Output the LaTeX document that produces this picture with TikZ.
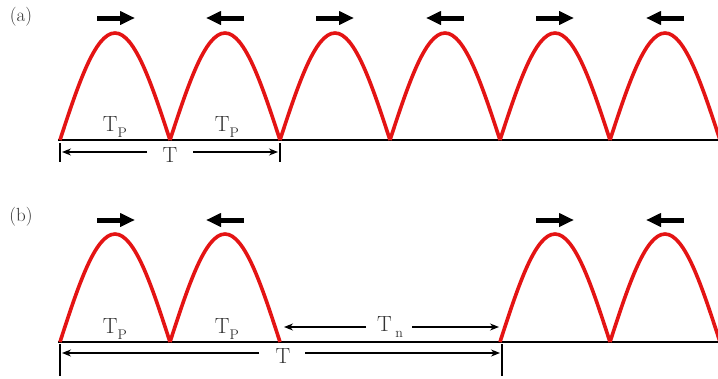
\documentclass[tikz,border=0pt]{standalone}
\usepackage{fontspec}
\usetikzlibrary{arrows.meta}
\definecolor{archred}{RGB}{228,20,20}
\newcommand{\subtext}[1]{\raisebox{-0.25em}{\fontsize{14}{15}\selectfont #1}}
\begin{document}
\begin{tikzpicture}[x=1pt,y=-1pt,
  arch/.style={draw=archred,line width=3.6pt,line join=round},
  base/.style={draw=black,line width=1.3pt},
  bigarrow/.style={draw=black,line width=5pt,-{Triangle[width=13pt,length=15pt]}},
  dimarrow/.style={draw=black,line width=1.3pt,-{Stealth[length=9pt,width=7pt]}},
  tick/.style={draw=black,line width=1.3pt},
  lbl/.style={font=\fontsize{22}{24}\selectfont,inner sep=0pt,text=black!80},
  plbl/.style={font=\fontsize{19}{21}\selectfont,inner sep=0pt,text=black!80}]
\useasboundingbox[fill=white] (0,0) rectangle (718,378);
% ---------------- (a) ----------------
\node[plbl] (la) at (21,17) {(a)};
\draw[base] (58,140) -- (718,140);
\foreach \s in {60,170,280,390,500,610}{
  \draw[arch] (\s,140) sin ({\s+55},33) cos ({\s+110},140);
}
\foreach \c/\d in {116/1,225/-1,335/1,445/-1,555/1,665/-1}{
  \coordinate (as\c) at ({\c-19*\d},18);
  \coordinate (ae\c) at ({\c+19*\d},18);
  \draw[bigarrow] (as\c) -- (ae\c);
}
\node[lbl] (tpa1) at (115,127) {T\subtext{P}};
\node[lbl] (tpa2) at (227,127) {T\subtext{P}};
\node[lbl] (ta) at (170,155) {T};
\coordinate (ta1) at (60,143); \coordinate (ta2) at (60,162);
\coordinate (tb1) at (280,143); \coordinate (tb2) at (280,162);
\draw[tick] (ta1) -- (ta2);
\draw[tick] (tb1) -- (tb2);
\coordinate (da0) at (147,152); \coordinate (da1) at (62,152);
\coordinate (da2) at (193,152); \coordinate (da3) at (278,152);
\draw[dimarrow] (da0) -- (da1);
\draw[dimarrow] (da2) -- (da3);
% ---------------- (b) ----------------
\node[plbl] (lb) at (21,217) {(b)};
\draw[base] (58,342) -- (718,342);
\foreach \s in {60,170,500,610}{
  \draw[arch] (\s,342) sin ({\s+55},234) cos ({\s+110},342);
}
\foreach \c/\d in {116/1,225/-1,555/1,665/-1}{
  \coordinate (bs\c) at ({\c-19*\d},220);
  \coordinate (be\c) at ({\c+19*\d},220);
  \draw[bigarrow] (bs\c) -- (be\c);
}
\node[lbl] (tpb1) at (115,329) {T\subtext{P}};
\node[lbl] (tpb2) at (227,329) {T\subtext{P}};
\node[lbl] (tn) at (390,327) {T\,\subtext{n}};
\coordinate (n0) at (366,327); \coordinate (n1) at (284,327);
\coordinate (n2) at (412,327); \coordinate (n3) at (499,327);
\draw[dimarrow] (n0) -- (n1);
\draw[dimarrow] (n2) -- (n3);
\node[lbl] (tb) at (283,356) {T};
\coordinate (tc1) at (60,344); \coordinate (tc2) at (60,376);
\coordinate (td1) at (502,344); \coordinate (td2) at (502,376);
\draw[tick] (tc1) -- (tc2);
\draw[tick] (td1) -- (td2);
\coordinate (db0) at (259,353); \coordinate (db1) at (62,353);
\coordinate (db2) at (305,353); \coordinate (db3) at (500,353);
\draw[dimarrow] (db0) -- (db1);
\draw[dimarrow] (db2) -- (db3);
\end{tikzpicture}
\end{document}
